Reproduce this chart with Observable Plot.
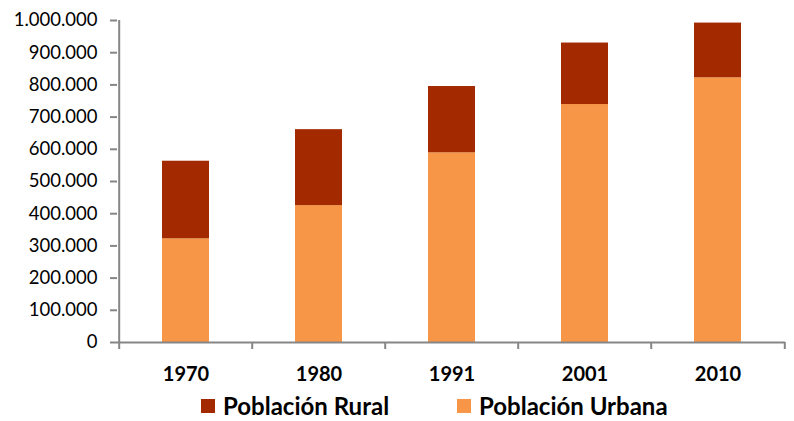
<!DOCTYPE html>
<html>
<head>
<meta charset="utf-8">
<script src="https://cdn.jsdelivr.net/npm/d3@7"></script>
<script src="https://cdn.jsdelivr.net/npm/@observablehq/plot@0.6"></script>
<style>
  html, body { margin: 0; padding: 0; background: #fff; }
  #wrap { position: relative; width: 794px; height: 421px; overflow: hidden; font-family: Lato, "Open Sans", sans-serif; }
  .legend { position: relative; height: 27px; }
  .item { position: absolute; top: 0; display: flex; align-items: center; font-weight: bold; font-size: 24px; color: #000; line-height: 26px; white-space: nowrap; }
  .sw { width: 14px; height: 14px; margin-right: 8px; display: inline-block; }
</style>
</head>
<body>
<div id="wrap"><div id="chart"></div><div class="legend" id="legend"></div></div>
<script>
const years = ["1970", "1980", "1991", "2001", "2010"];
const urbana = [322000, 425000, 589000, 739000, 822000];
const rural = [241000, 236000, 206000, 191000, 170000];
const series = ["Población Urbana", "Población Rural"];
const colors = ["#F79646", "#A32A00"];
const yTicks = [0, 100000, 200000, 300000, 400000, 500000, 600000, 700000, 800000, 900000, 1000000];

const rows = [];
years.forEach((y, i) => {
  rows.push({year: y, serie: series[0], value: urbana[i]});
  rows.push({year: y, serie: series[1], value: rural[i]});
});

const fmt = d3.formatLocale({decimal: ",", thousands: ".", grouping: [3], currency: ["", ""]}).format(",d");

const W = 794, H = 393, mL = 117, mR = 9, mT = 20, mB = 51;
const step = (W - mL - mR) / years.length;
const axisColor = "#868686";

const chart = Plot.plot({
  width: W, height: H,
  marginLeft: mL, marginRight: mR, marginTop: mT, marginBottom: mB,
  style: {fontFamily: "Lato, 'Open Sans', sans-serif", color: "#000", background: "#fff"},
  x: {domain: years, paddingInner: 0.65, paddingOuter: 0.325},
  y: {domain: [0, 1000000]},
  color: {domain: series, range: colors},
  marks: [
    Plot.barY(rows, {x: "year", y: "value", fill: "serie"}),
    Plot.ruleY([0], {stroke: axisColor, strokeWidth: 2}),
    Plot.ruleX([years[0]], {stroke: axisColor, strokeWidth: 2, dx: -step / 2}),
    Plot.ruleX(years, {x: d => d, y1: 0, y2: 0, insetBottom: -7, stroke: axisColor, strokeWidth: 2, dx: -step / 2}),
    Plot.ruleX([years[years.length - 1]], {x: d => d, y1: 0, y2: 0, insetBottom: -7, stroke: axisColor, strokeWidth: 2, dx: step / 2}),
    Plot.axisY({ticks: yTicks, tickFormat: fmt, tickSize: 7, tickPadding: 13, fontSize: 18.5, stroke: axisColor, strokeWidth: 2, fill: "#000", label: null}),
    Plot.axisX({tickSize: 0, tickPadding: 24, fontSize: 20, fontWeight: "bold", fill: "#000", label: null})
  ]
});
document.getElementById("chart").appendChild(chart);

const legend = document.getElementById("legend");
const legendOrder = [1, 0];
const lefts = [201, 457];
legendOrder.forEach((si, k) => {
  const it = document.createElement("div");
  it.className = "item";
  it.style.left = lefts[k] + "px";
  const sw = document.createElement("span");
  sw.className = "sw";
  sw.style.background = colors[si];
  it.appendChild(sw);
  it.appendChild(document.createTextNode(series[si]));
  legend.appendChild(it);
});
</script>
</body>
</html>
